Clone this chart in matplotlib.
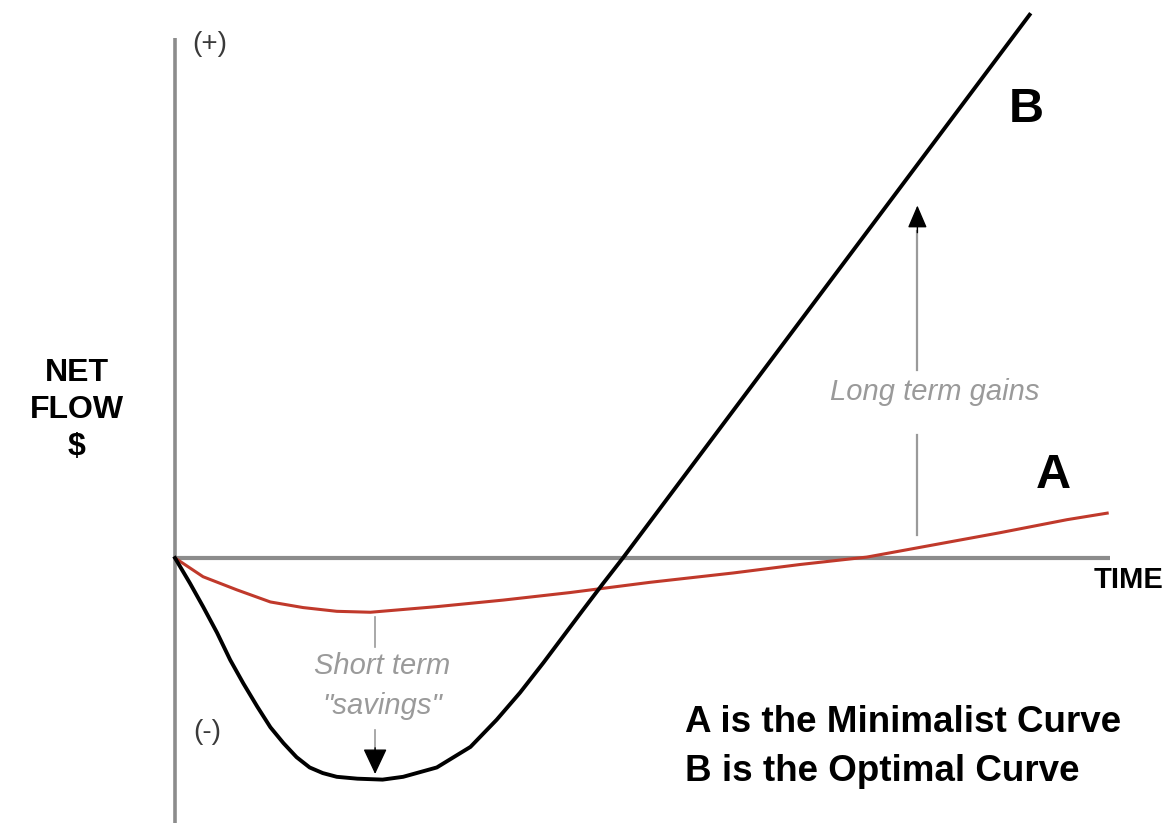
import numpy as np
from matplotlib import pyplot as plt

plt.rcParams['font.family'] = ['Liberation Sans', 'DejaVu Sans']

# curve B (optimal) - time vs net flow
b_time = [0.00, 0.16, 0.30, 0.45, 0.59, 0.73, 0.88, 1.02, 1.16, 1.30, 1.44, 1.58, 1.73, 1.95, 2.22,
          2.44, 2.80, 3.16, 3.44, 3.69, 3.94, 4.15, 4.36, 4.58, 4.79, 9.14]
b_flow = [0.00, -0.27, -0.52, -0.80, -1.09, -1.34, -1.59, -1.81, -1.98, -2.13, -2.24, -2.30, -2.34, -2.36, -2.37,
          -2.34, -2.24, -2.02, -1.73, -1.44, -1.12, -0.84, -0.56, -0.27, 0.00, 5.81]

# curve A (minimalist)
a_time = [0.00, 0.30, 0.66, 1.02, 1.37, 1.73, 2.09, 2.80, 3.51, 4.22, 5.08, 5.97, 6.68, 7.40, 8.11, 8.82, 9.54, 9.97]
a_flow = [0.00, -0.20, -0.34, -0.47, -0.53, -0.57, -0.58, -0.52, -0.45, -0.37, -0.26, -0.16, -0.07, 0.01, 0.14, 0.27, 0.41, 0.48]

gray = '#8c8c8c'
txtgray = '#9a9a9a'

fig = plt.figure(figsize=(11.73, 8.23), dpi=100)
ax = fig.add_axes([0, 0, 1, 1])
ax.set_xlim(-1.872, 10.674)
ax.set_ylim(-2.834, 5.968)
ax.axis('off')

# axes
ax.plot([0, 0], [-2.834, 5.56], color=gray, lw=2.6, solid_capstyle='butt')
ax.plot([0, 10], [0, 0], color=gray, lw=3.0, solid_capstyle='butt')

ax.plot(a_time, a_flow, color='#c0392b', lw=2.2, solid_joinstyle='round')
ax.plot(b_time, b_flow, color='black', lw=2.8, solid_joinstyle='round')

# short term savings
ax.plot([2.14, 2.14], [-0.63, -0.95], color=txtgray, lw=1.2)
ax.text(2.22, -1.15, 'Short term', ha='center', va='center', style='italic',
        color=txtgray, fontsize=21)
ax.text(2.22, -1.58, '"savings"', ha='center', va='center', style='italic',
        color=txtgray, fontsize=21)
ax.plot([2.14, 2.14], [-1.84, -2.05], color=txtgray, lw=1.2)
ax.annotate('', xy=(2.14, -2.34), xytext=(2.14, -2.0),
            arrowprops=dict(arrowstyle='-|>,head_length=1.6,head_width=0.75',
                            color='black', lw=1))

# long term gains
ax.plot([7.94, 7.94], [0.25, 1.32], color=txtgray, lw=1.6)
ax.text(8.13, 1.78, 'Long term gains', ha='center', va='center', style='italic',
        color=txtgray, fontsize=21)
ax.plot([7.94, 7.94], [2.01, 3.5], color=txtgray, lw=1.6)
ax.annotate('', xy=(7.94, 3.8), xytext=(7.94, 3.45),
            arrowprops=dict(arrowstyle='-|>,head_length=1.4,head_width=0.6',
                            color='black', lw=1))

# labels
ax.text(0.18, 5.5, '(+)', ha='left', va='center', fontsize=20, color='#3a3a3a')
ax.text(0.19, -1.86, '(-)', ha='left', va='center', fontsize=20, color='#3a3a3a')
ax.text(-1.05, 1.58, 'NET\nFLOW\n$', ha='center', va='center', fontsize=23,
        fontweight='bold', linespacing=1.3)
ax.text(10.2, -0.235, 'TIME', ha='center', va='center', fontsize=21, fontweight='bold')
ax.text(9.39, 0.88, 'A', ha='center', va='center', fontsize=35, fontweight='bold')
ax.text(9.11, 4.80, 'B', ha='center', va='center', fontsize=35, fontweight='bold')
ax.text(5.45, -1.76, 'A is the Minimalist Curve', ha='left', va='center',
        fontsize=26.5, fontweight='bold')
ax.text(5.45, -2.28, 'B is the Optimal Curve', ha='left', va='center',
        fontsize=26.5, fontweight='bold')

fig.savefig('out.png', dpi=100)
